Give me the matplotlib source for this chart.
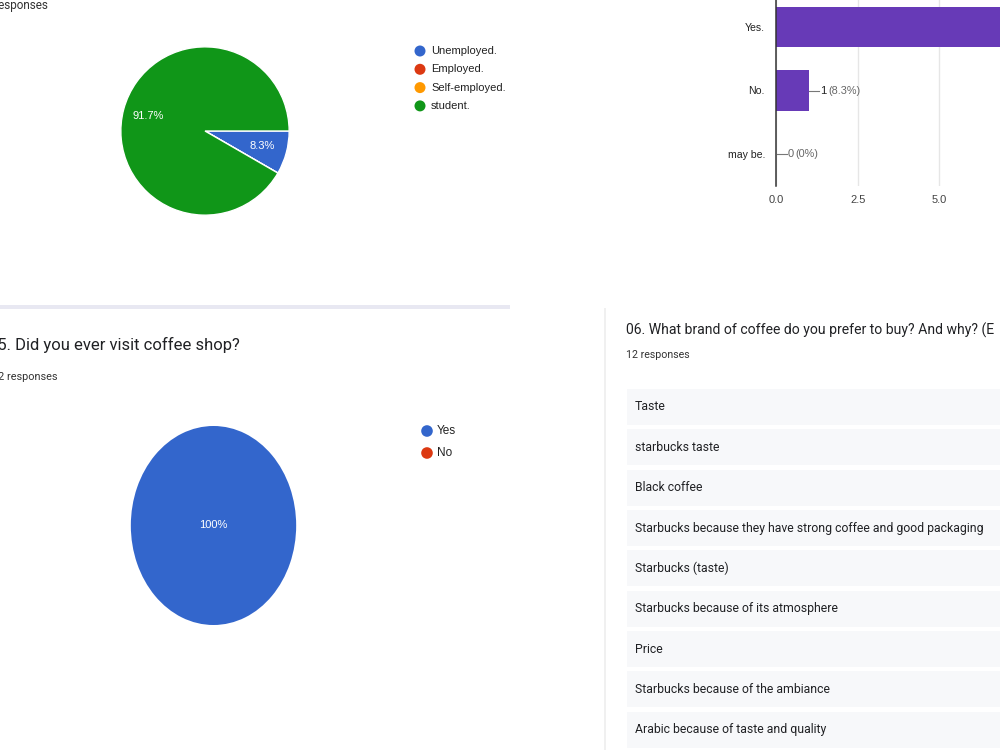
import matplotlib
matplotlib.use('Agg')
import matplotlib.pyplot as plt
from matplotlib.patches import Rectangle, Circle

W, H = 1000, 750

# ---------------- data ----------------
occupation_labels = ['Unemployed.', 'Employed.', 'Self-employed.', 'student.']
occupation_counts = [1, 0, 0, 11]
occupation_colors = ['#3366cc', '#dc3912', '#ff9900', '#109618']

interest_labels = ['Yes.', 'No.', 'may be.']
interest_counts = [11, 1, 0]
bar_color = '#673ab7'
x_ticks = [0.0, 2.5, 5.0, 7.5, 10.0]

visit_labels = ['Yes', 'No']
visit_counts = [12, 0]
visit_colors = ['#3366cc', '#dc3912']

responses_label = '12 responses'
q5_title = '05. Did you ever visit coffee shop?'
q6_title = '06. What brand of coffee do you prefer to buy? And why? (E'
brand_responses = [
    'Taste',
    'starbucks taste',
    'Black coffee',
    'Starbucks because they have strong coffee and good packaging',
    'Starbucks (taste)',
    'Starbucks because of its atmosphere',
    'Price',
    'Starbucks because of the ambiance',
    'Arabic because of taste and quality',
]

ARIAL = ['Liberation Sans', 'DejaVu Sans']
ROBOTO = ['Roboto', 'DejaVu Sans']


def fmt_pct(p):
    s = f'{p:.1f}'
    if s.endswith('.0'):
        s = s[:-2]
    return s + '%'


fig = plt.figure(figsize=(W / 100, H / 100), dpi=100)
fig.patch.set_facecolor('white')


def px_axes(left, top, width, height, **kw):
    return fig.add_axes([left / W, 1 - (top + height) / H, width / W, height / H], **kw)


# overlay in pixel coordinates
ax0 = fig.add_axes([0, 0, 1, 1])
ax0.set_xlim(0, W)
ax0.set_ylim(H, 0)
ax0.axis('off')

# dividers
ax0.add_patch(Rectangle((0, 305), 510, 3.5, fc='#e8e8f2', ec='none'))
ax0.add_patch(Rectangle((603.5, 308), 2, 450, fc='#f0f0f0', ec='none'))

# top-left header fragment
ax0.text(48, 5, responses_label, ha='right', va='center', fontsize=8.5,
         family=ROBOTO, color='#333333')

# top-left legend
for i, (lab, col) in enumerate(zip(occupation_labels, occupation_colors)):
    y = 51 + i * 18.3
    ax0.add_patch(Circle((420, y), 5.5, fc=col, ec='none'))
    ax0.text(431, y, lab, ha='left', va='center', fontsize=8, family=ARIAL, color='#222222')

# top-left pie
axp1 = px_axes(120, 46, 170, 170)
wedges, texts, autotexts = axp1.pie(
    occupation_counts, colors=occupation_colors, startangle=0, counterclock=False,
    autopct=lambda p: fmt_pct(p) if p > 0 else '', pctdistance=0.7,
    wedgeprops=dict(edgecolor='white', linewidth=1.0),
    textprops=dict(color='white', fontsize=8, family=ARIAL))
axp1.set_aspect('auto')
axp1.set_xlim(-1.01, 1.01)
axp1.set_ylim(-1.01, 1.01)
axp1.axis('off')

# top-right bar chart
PX_PER_UNIT = 32.67
axb = px_axes(776, -5, 224, 191)
ypos = list(range(len(interest_labels)))
axb.barh(ypos, interest_counts, height=0.63, color=bar_color, zorder=3)
axb.set_yticks(ypos)
axb.set_yticklabels(interest_labels, fontsize=7.6, family=ARIAL, color='#222222')
axb.set_xticks(x_ticks)
axb.set_xticklabels([f'{t:.1f}' for t in x_ticks], fontsize=8, family=ARIAL, color='#444444')
xmax = 224 / PX_PER_UNIT
axb.set_xlim(0, xmax)
axb.set_ylim(len(interest_labels) - 0.5, -0.5)
axb.tick_params(axis='both', length=0)
axb.tick_params(axis='y', pad=8)
axb.tick_params(axis='x', pad=6.5)
for s in ['top', 'right', 'bottom']:
    axb.spines[s].set_visible(False)
axb.spines['left'].set_color('#333333')
axb.spines['left'].set_linewidth(1.1)
axb.spines['left'].set_zorder(4)
axb.grid(axis='x', color='#e6e6e6', linewidth=1, zorder=0)
axb.set_axisbelow(True)
total_b = sum(interest_counts)
unit = 1 / PX_PER_UNIT
for y, v in zip(ypos, interest_counts):
    x0 = v + unit * 0.5
    if x0 + 40 * unit > xmax:
        continue  # label lies beyond the visible (cropped) part of the chart
    axb.plot([x0, x0 + 10 * unit], [y, y], color='#777777', lw=0.8, zorder=5)
    axb.text(x0 + 11 * unit, y, f'{v}', ha='left', va='center', fontsize=8, family=ARIAL,
             color='#222222' if v > 0 else '#666666')
    axb.annotate(f'({fmt_pct(100 * v / total_b)})', xy=(x0 + 11 * unit, y), xytext=(6, 0),
                 textcoords='offset points', ha='left', va='center', fontsize=7.8,
                 family=ARIAL, color='#666666')
axb.patch.set_alpha(0)

# bottom-left question
ax0.text(240, 345, q5_title, ha='right', va='center', fontsize=12, family=ROBOTO, color='#202124')
ax0.text(57, 377, responses_label, ha='right', va='center', fontsize=7.8, family=ROBOTO, color='#333333')

for i, (lab, col) in enumerate(zip(visit_labels, visit_colors)):
    y = 431 + i * 22
    ax0.add_patch(Circle((427, y), 5.8, fc=col, ec='none'))
    ax0.text(437, y, lab, ha='left', va='center', fontsize=8.5, family=ARIAL, color='#222222')

axp2 = px_axes(130, 425, 167, 201)
axp2.pie(visit_counts, colors=visit_colors, startangle=90, counterclock=False,
         autopct=lambda p: fmt_pct(p) if p > 0 else '', pctdistance=0.0,
         wedgeprops=dict(linewidth=0),
         textprops=dict(color='white', fontsize=8, family=ARIAL))
axp2.set_aspect('auto')
axp2.set_xlim(-1.01, 1.01)
axp2.set_ylim(-1.01, 1.01)
axp2.axis('off')

# bottom-right text responses
ax0.text(626, 330, q6_title, ha='left', va='center', fontsize=10.1, family=ROBOTO, color='#202124')
ax0.text(626, 355, responses_label, ha='left', va='center', fontsize=7.7, family=ROBOTO, color='#333333')
for i, txt in enumerate(brand_responses):
    y0 = 389 + i * 40.35
    ax0.add_patch(Rectangle((627, y0), 400, 36, fc='#f7f8fa', ec='none'))
    ax0.text(635, y0 + 18, txt, ha='left', va='center', fontsize=8.8, family=ROBOTO, color='#202124')

fig.savefig('out.png', dpi=100)
